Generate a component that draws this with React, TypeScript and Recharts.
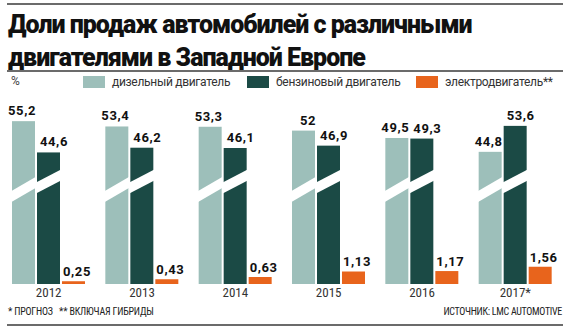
import React from 'react';
import { BarChart, Bar, XAxis, YAxis, LabelList } from 'recharts';

const years = ['2012', '2013', '2014', '2015', '2016', '2017*'];
const diesel = [55.2, 53.4, 53.3, 52, 49.5, 44.8];
const petrol = [44.6, 46.2, 46.1, 46.9, 49.3, 53.6];
const electric = [0.25, 0.43, 0.63, 1.13, 1.17, 1.56];

const seriesNames = ['дизельный двигатель', 'бензиновый двигатель', 'электродвигатель**'];

const data = years.map((year, i) => ({
    year,
    diesel: diesel[i],
    petrol: petrol[i],
    electric: electric[i],
}));

const COLORS = {
    diesel: '#9dbfba',
    petrol: '#1b4a45',
    electric: '#e8641c',
};

const fmt = (v: number) => String(v).replace('.', ',');

// bar with the white "axis break" slash drawn across it
const SlashBar = (props: any) => {
    const { x, y, width, height, fill, leftUp, rightUp } = props;
    const base = y + height;
    const t = 11;
    const slope = (leftUp - rightUp) / width;
    const x0 = x - 1;
    const x1 = x + width + 1;
    const yl = base - leftUp + slope * 1;
    const yr = base - rightUp - slope * 1;
    return (
        <g>
            <rect x={x} y={y} width={width} height={height} fill={fill} />
            <polygon points={`${x0},${yl} ${x1},${yr} ${x1},${yr + t} ${x0},${yl + t}`} fill="#fff" />
        </g>
    );
};

const labelStyle = {
    fill: '#111',
    fontFamily: 'Roboto, sans-serif',
    fontWeight: 700,
    fontSize: 13,
    letterSpacing: 0.6,
};

const DieselLabel = (props: any) => {
    const { x, y, width, value } = props;
    return (
        <text x={x + width + 1} y={y - 6} textAnchor="end" {...labelStyle}>
            {fmt(value)}
        </text>
    );
};

const PetrolLabel = (props: any) => {
    const { x, y, value } = props;
    return (
        <text x={x + 3} y={y - 6} {...labelStyle}>
            {fmt(value)}
        </text>
    );
};

const ElectricLabel = (props: any) => {
    const { x, y, value } = props;
    return (
        <text x={x + 1} y={y - 5} {...labelStyle}>
            {fmt(value)}
        </text>
    );
};

const legendItems = [
    { name: seriesNames[0], color: COLORS.diesel, left: 83 },
    { name: seriesNames[1], color: COLORS.petrol, left: 247 },
    { name: seriesNames[2], color: COLORS.electric, left: 416 },
];

const narrow = "'Liberation Sans Narrow', 'Roboto Condensed', Roboto, sans-serif";

const App: React.FC = () => {
    return (
        <div style={{ position: 'absolute', left: 0, top: 0, width: 570, height: 332, background: '#fff', overflow: 'hidden' }}>
            <div style={{ position: 'absolute', left: 7, top: 3, width: 556, height: 2, background: '#6b6b6b' }} />
            <div
                style={{
                    position: 'absolute',
                    left: 8,
                    top: 8,
                    fontFamily: 'Roboto, sans-serif',
                    fontWeight: 900,
                    fontSize: 25,
                    lineHeight: '33px',
                    color: '#111',
                    letterSpacing: -1,
                    whiteSpace: 'nowrap',
                }}
            >
                Доли продаж автомобилей с различными
                <br />
                двигателями в Западной Европе
            </div>
            <div style={{ position: 'absolute', left: 7, top: 70, width: 556, height: 2, background: '#6b6b6b' }} />
            <div style={{ position: 'absolute', left: 11, top: 74, fontFamily: 'Roboto, sans-serif', fontSize: 12, color: '#444' }}>%</div>
            {legendItems.map((it) => (
                <div key={it.name} style={{ position: 'absolute', left: it.left, top: 76, display: 'flex', alignItems: 'center' }}>
                    <div style={{ width: 22, height: 12, background: it.color }} />
                    <span
                        style={{
                            marginLeft: 7,
                            fontFamily: 'Roboto, sans-serif',
                            fontSize: 12,
                            lineHeight: '12px',
                            letterSpacing: -0.3,
                            color: '#333',
                        }}
                    >
                        {it.name}
                    </span>
                </div>
            ))}

            <div style={{ position: 'absolute', left: 0, top: 0 }}>
                <BarChart width={570} height={332} data={data} margin={{ top: 107, right: 8, left: 2, bottom: 28 }} barSize={23} barGap={2}>
                    <XAxis
                        dataKey="year"
                        axisLine={false}
                        tickLine={false}
                        tickSize={4}
                        tickMargin={0}
                        height={20}
                        interval={0}
                        tick={{ fill: '#333', fontSize: 13, fontFamily: narrow }}
                    />
                    <YAxis yAxisId="main" hide domain={[0, 60]} />
                    <YAxis yAxisId="ev" hide domain={[0, 16]} />
                    <Bar
                        yAxisId="main"
                        dataKey="diesel"
                        fill={COLORS.diesel}
                        isAnimationActive={false}
                        shape={(p: any) => <SlashBar {...p} leftUp={92} rightUp={108} />}
                    >
                        <LabelList dataKey="diesel" content={DieselLabel} />
                    </Bar>
                    <Bar
                        yAxisId="main"
                        dataKey="petrol"
                        fill={COLORS.petrol}
                        isAnimationActive={false}
                        shape={(p: any) => <SlashBar {...p} leftUp={101} rightUp={115} />}
                    >
                        <LabelList dataKey="petrol" content={PetrolLabel} />
                    </Bar>
                    <Bar yAxisId="ev" dataKey="electric" fill={COLORS.electric} isAnimationActive={false}>
                        <LabelList dataKey="electric" content={ElectricLabel} />
                    </Bar>
                </BarChart>
            </div>

            <div style={{ position: 'absolute', left: 8, top: 306, fontFamily: narrow, fontSize: 10, letterSpacing: -0.2, color: '#222', whiteSpace: 'nowrap' }}>
                * ПРОГНОЗ &nbsp;&nbsp;** ВКЛЮЧАЯ ГИБРИДЫ
            </div>
            <div style={{ position: 'absolute', right: 8, top: 306, fontFamily: narrow, fontSize: 10, letterSpacing: -0.3, color: '#222', whiteSpace: 'nowrap' }}>
                ИСТОЧНИК: LMC AUTOMOTIVE
            </div>
            <div style={{ position: 'absolute', left: 7, top: 324, width: 556, height: 2, background: '#6b6b6b' }} />
        </div>
    );
};

export default App;
